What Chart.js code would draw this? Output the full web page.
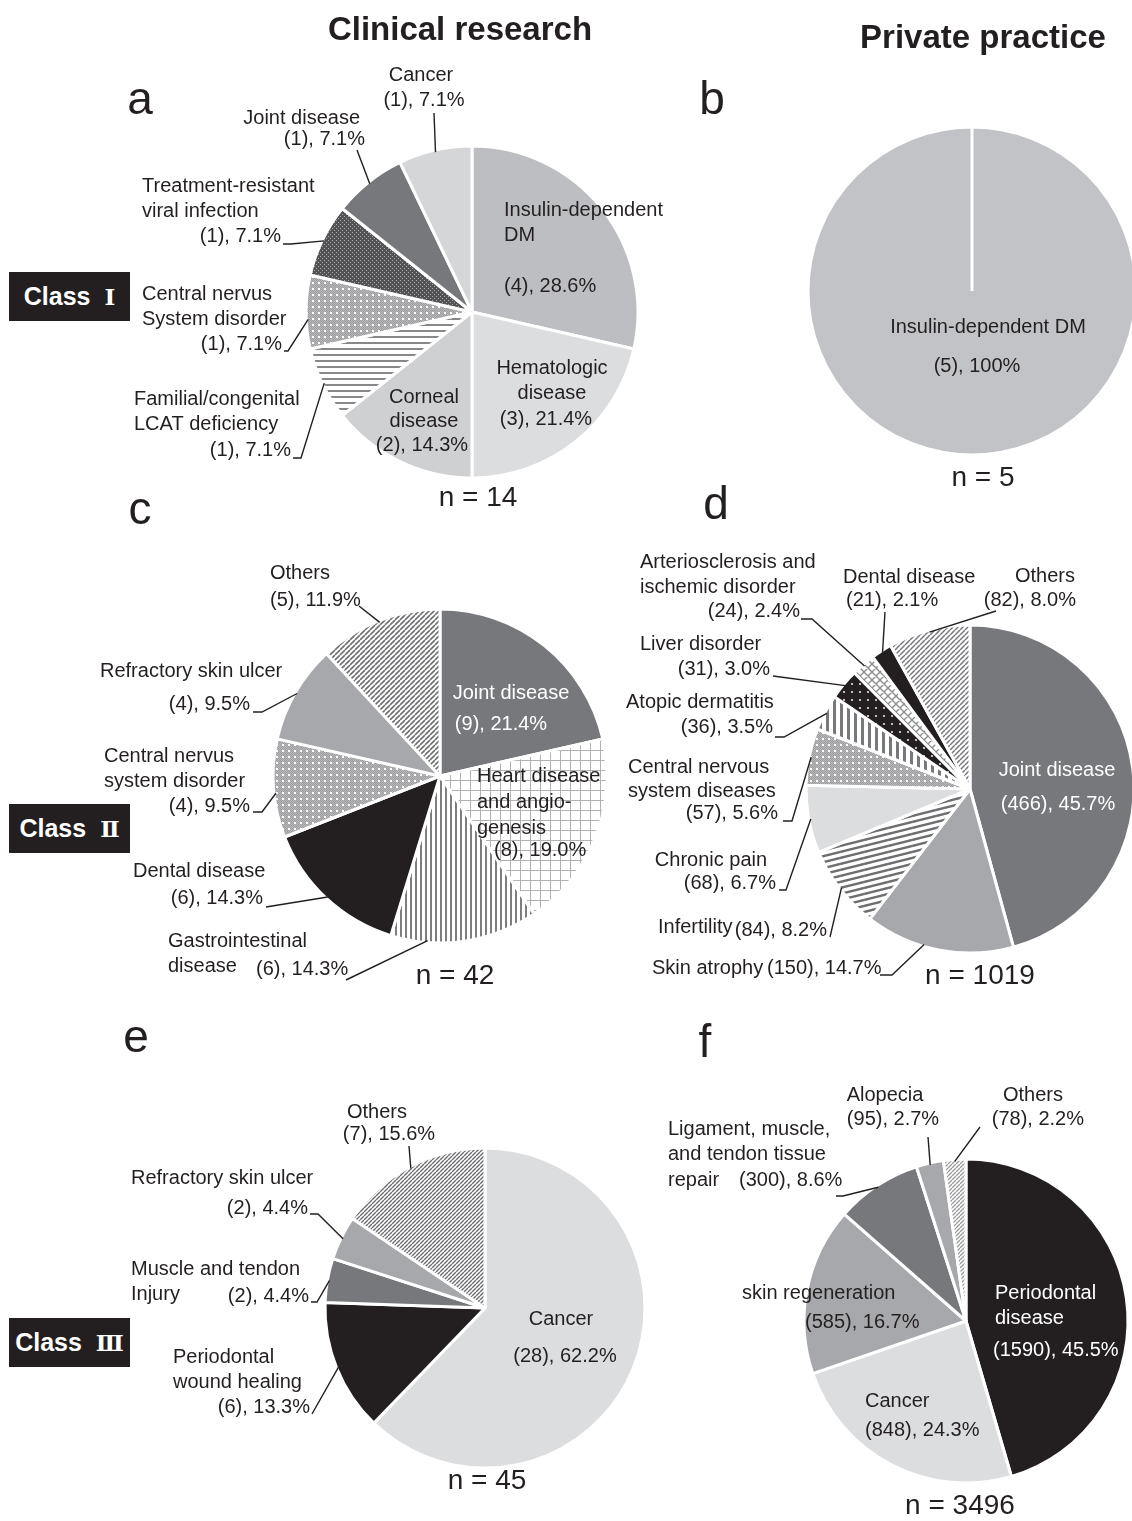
<!DOCTYPE html>
<html>
<head>
<meta charset="utf-8">
<script src="https://cdn.jsdelivr.net/npm/chart.js@4.4.0/dist/chart.umd.min.js"></script>
<style>
  body { margin: 0; background: #fff; }
  #page { position: relative; width: 1132px; height: 1521px; font-family: "Liberation Sans", Arial, sans-serif; color: #231f20; overflow: hidden; }
  canvas { position: absolute; left: 0; top: 0; }
  .t { position: absolute; transform: translate(-50%, -50%); line-height: 1; white-space: nowrap; }
  .head { font-weight: bold; font-size: 33px; }
  .panel { font-size: 46px; }
  .n { font-size: 28px; }
  .cls { position: absolute; left: 9px; width: 121px; height: 49px; background: #231f20; color: #fff;
         font-weight: bold; font-size: 25px; display: flex; align-items: center; justify-content: center; }
  .cls span { font-family: "DejaVu Serif", serif; font-weight: bold; font-size: 23px; margin-left: 14px; }
</style>
</head>
<body>
<div id="page">
  <canvas id="pieA" width="1132" height="1521"></canvas>
  <canvas id="pieB" width="1132" height="1521"></canvas>
  <canvas id="pieC" width="1132" height="1521"></canvas>
  <canvas id="pieD" width="1132" height="1521"></canvas>
  <canvas id="pieE" width="1132" height="1521"></canvas>
  <canvas id="pieF" width="1132" height="1521"></canvas>

  <div class="t head" style="left:460px;top:28px">Clinical research</div>
  <div class="t head" style="left:983px;top:36px">Private practice</div>

  <div class="t panel" style="left:140px;top:98px">a</div>
  <div class="t panel" style="left:712px;top:98px">b</div>
  <div class="t panel" style="left:140px;top:508px">c</div>
  <div class="t panel" style="left:716px;top:503px">d</div>
  <div class="t panel" style="left:136px;top:1036px">e</div>
  <div class="t panel" style="left:705px;top:1041px">f</div>

  <div class="cls" style="top:272px">Class<span>Ⅰ</span></div>
  <div class="cls" style="top:804px">Class<span>Ⅱ</span></div>
  <div class="cls" style="top:1318px">Class<span>Ⅲ</span></div>

  <div class="t n" style="left:478px;top:497px">n = 14</div>
  <div class="t n" style="left:983px;top:477px">n = 5</div>
  <div class="t n" style="left:455px;top:975px">n = 42</div>
  <div class="t n" style="left:980px;top:975px">n = 1019</div>
  <div class="t n" style="left:487px;top:1480px">n = 45</div>
  <div class="t n" style="left:960px;top:1505px">n = 3496</div>
</div>

<script>
// a: class I, clinical research
const aNames = ["Insulin-dependent\nDM", "Hematologic\ndisease", "Corneal\ndisease", "Familial/congenital\nLCAT deficiency",
                "Central nervus\nSystem disorder", "Treatment-resistant\nviral infection", "Joint disease", "Cancer"];
const aCounts = [4, 3, 2, 1, 1, 1, 1, 1];
const aPct = ["28.6", "21.4", "14.3", "7.1", "7.1", "7.1", "7.1", "7.1"];

// b: class I, private practice
const bNames = ["Insulin-dependent DM"];
const bCounts = [5];
const bPct = ["100"];

// c: class II, clinical research
const cNames = ["Joint disease", "Heart disease\nand angio-\ngenesis", "Gastrointestinal\ndisease", "Dental disease",
                "Central nervus\nsystem disorder", "Refractory skin ulcer", "Others"];
const cCounts = [9, 8, 6, 6, 4, 4, 5];
const cPct = ["21.4", "19.0", "14.3", "14.3", "9.5", "9.5", "11.9"];

// d: class II, private practice
const dNames = ["Joint disease", "Skin atrophy", "Infertility", "Chronic pain", "Central nervous\nsystem diseases",
                "Atopic dermatitis", "Liver disorder", "Arteriosclerosis and\nischemic disorder", "Dental disease", "Others"];
const dCounts = [466, 150, 84, 68, 57, 36, 31, 24, 21, 82];
const dPct = ["45.7", "14.7", "8.2", "6.7", "5.6", "3.5", "3.0", "2.4", "2.1", "8.0"];

// e: class III, clinical research
const eNames = ["Cancer", "Periodontal\nwound healing", "Muscle and tendon\nInjury", "Refractory skin ulcer", "Others"];
const eCounts = [28, 6, 2, 2, 7];
const ePct = ["62.2", "13.3", "4.4", "4.4", "15.6"];

// f: class III, private practice
const fNames = ["Periodontal\ndisease", "Cancer", "skin regeneration", "Ligament, muscle,\nand tendon tissue\nrepair", "Alopecia", "Others"];
const fCounts = [1590, 848, 585, 300, 95, 78];
const fPct = ["45.5", "24.3", "16.7", "8.6", "2.7", "2.2"];

const W = 1132, H = 1521;
const INK = '#231f20';
const DARK = '#77787b', MID = '#a7a8ab', LIGHT = '#dcdddf', BLACK = '#231f20';
const LABEL_FONT = '20px "Liberation Sans", Arial, sans-serif';

// small repeating tiles for the hatched slices
function pattern(w, h, paint) {
  const c = document.createElement('canvas');
  c.width = w; c.height = h;
  const g = c.getContext('2d');
  paint(g, w, h);
  return g.createPattern(c, 'repeat');
}
function white(g, w, h) { g.fillStyle = '#fff'; g.fillRect(0, 0, w, h); }

const hLines = pattern(6, 6, (g, w, h) => { white(g, w, h); g.fillStyle = '#88888b'; g.fillRect(0, 0, w, 2); });
const vLines = pattern(5, 5, (g, w, h) => { white(g, w, h); g.fillStyle = '#7e7e81'; g.fillRect(0, 0, 2, h); });
const wideVLines = pattern(7, 7, (g, w, h) => { white(g, w, h); g.fillStyle = '#77787b'; g.fillRect(0, 0, 3, h); });
function diag(size, color, lw) {
  return pattern(size, size, (g, w, h) => {
    white(g, w, h);
    g.strokeStyle = color; g.lineWidth = lw;
    g.beginPath();
    for (const k of [-1, 0, 1]) { g.moveTo(k * w, h); g.lineTo(k * w + w, 0); }
    g.stroke();
  });
}
const stripes = pattern(24, 6, (g, w, h) => {
  white(g, w, h);
  g.strokeStyle = '#6e6e71'; g.lineWidth = 2.4;
  g.beginPath();
  for (const k of [-1, 0, 1]) { g.moveTo(0, h + k * h); g.lineTo(w, k * h); }
  g.stroke();
});
const grid = pattern(10, 10, (g, w, h) => {
  white(g, w, h); g.fillStyle = '#b2b2b4';
  g.fillRect(0, 0, w, 1); g.fillRect(0, 0, 1, h);
});
const diamonds = pattern(8, 8, (g, w, h) => {
  white(g, w, h);
  g.strokeStyle = '#8a8a8d'; g.lineWidth = 1.3;
  g.beginPath();
  for (const k of [-1, 0, 1]) {
    g.moveTo(k * w, h); g.lineTo(k * w + w, 0);
    g.moveTo(k * w, 0); g.lineTo(k * w + w, h);
  }
  g.stroke();
});
const dotsDark = pattern(8, 8, (g, w, h) => {
  g.fillStyle = BLACK; g.fillRect(0, 0, w, h);
  g.fillStyle = '#e6e6e6'; g.beginPath(); g.arc(4, 4, 1.1, 0, Math.PI * 2); g.fill();
});
const dotsGray = pattern(6, 6, (g, w, h) => {
  g.fillStyle = '#9e9ea0'; g.fillRect(0, 0, w, h);
  g.fillStyle = '#b8b8ba';
  for (let x = 0; x < w; x++) for (let y = 0; y < h; y++) if ((x + y) % 2) g.fillRect(x, y, 1, 1);
  g.fillStyle = '#fff'; g.fillRect(0, 0, 2, 2);
});
const darkMesh = pattern(4, 4, (g, w, h) => {
  g.fillStyle = '#535355'; g.fillRect(0, 0, w, h);
  g.fillStyle = '#a9a9ab'; g.fillRect(0, 0, 1, 1); g.fillRect(2, 2, 1, 1);
});

// labels and leader lines; the last point of a leader sits on the slice edge
const sliceLabels = {
  id: 'sliceLabels',
  afterDatasetsDraw(chart, args, opts) {
    const ctx = chart.ctx;
    const arcs = chart.getDatasetMeta(0).data;
    const counts = chart.data.datasets[0].data;
    ctx.save();
    ctx.font = LABEL_FONT;
    ctx.textBaseline = 'middle';
    ctx.lineWidth = 1.4;
    ctx.strokeStyle = INK;
    opts.spots.forEach((s, i) => {
      if (s.lead) {
        const p = arcs[i].getProps(['x', 'y', 'startAngle', 'endAngle', 'outerRadius']);
        const a = p.startAngle + (s.f ?? 0.5) * (p.endAngle - p.startAngle);
        ctx.beginPath();
        s.lead.forEach(([x, y], k) => (k ? ctx.lineTo(x, y) : ctx.moveTo(x, y)));
        ctx.lineTo(p.x + Math.cos(a) * (p.outerRadius - 2), p.y + Math.sin(a) * (p.outerRadius - 2));
        ctx.stroke();
      }
      ctx.fillStyle = s.white ? '#fff' : INK;
      ctx.textAlign = s.n[2];
      opts.names[i].split('\n').forEach((t, k) => ctx.fillText(t, s.n[0], s.n[1] + k * (s.lh || 25)));
      ctx.textAlign = s.v[2];
      ctx.fillText(`(${counts[i]}), ${opts.pct[i]}%`, s.v[0], s.v[1]);
    });
    ctx.restore();
  }
};

function pie(id, names, counts, pct, colors, cx, cy, r, spots) {
  return new Chart(document.getElementById(id), {
    type: 'pie',
    data: {
      labels: names.map(n => n.replace(/\n/g, ' ')),
      datasets: [{ data: counts, backgroundColor: colors, borderColor: '#fff', borderWidth: 3, hoverOffset: 0, radius: r }]
    },
    options: {
      responsive: false,
      animation: false,
      events: [],
      layout: { padding: { left: cx - r - 2, right: W - cx - r - 2, top: cy - r - 2, bottom: H - cy - r - 2 } },
      plugins: {
        legend: { display: false },
        tooltip: { enabled: false },
        sliceLabels: { names, pct, spots }
      }
    },
    plugins: [sliceLabels]
  });
}

pie('pieA', aNames, aCounts, aPct,
  ['#bdbec1', '#dcdddf', '#cfd0d2', hLines, dotsGray, darkMesh, DARK, '#d5d6d8'],
  472, 312, 166, [
    { n: [504, 210, 'left'], v: [504, 286, 'left'] },
    { n: [552, 368, 'center'], v: [546, 419, 'center'] },
    { n: [424, 397, 'center'], v: [422, 445, 'center'], lh: 24 },
    { n: [134, 399, 'left'], v: [291, 450, 'right'], lead: [[293, 458], [301, 458]] },
    { n: [142, 294, 'left'], v: [282, 344, 'right'], lead: [[284, 351], [288, 351]], f: 0.4 },
    { n: [142, 186, 'left'], v: [281, 236, 'right'], lead: [[283, 244], [291, 244]] },
    { n: [360, 118, 'right'], v: [365, 139, 'right'], lead: [[357, 150]] },
    { n: [421, 75, 'center'], v: [424, 100, 'center'], lead: [[434, 113]] }
  ]);

pie('pieB', bNames, bCounts, bPct, ['#c2c3c6'], 978, 291, 164, [
  { n: [988, 327, 'center'], v: [977, 366, 'center'] }
]);

pie('pieC', cNames, cCounts, cPct,
  [DARK, grid, vLines, BLACK, dotsGray, MID, diag(5, '#6f6f72', 1.6)],
  440, 776, 167, [
    { n: [511, 693, 'center'], v: [501, 724, 'center'], white: true },
    { n: [477, 776, 'left'], v: [494, 850, 'left'], lh: 26 },
    { n: [168, 941, 'left'], v: [256, 969, 'left'], lead: [[346, 980]], f: 0.75 },
    { n: [133, 871, 'left'], v: [263, 898, 'right'], lead: [[266, 907]] },
    { n: [104, 756, 'left'], v: [250, 806, 'right'], lead: [[253, 812], [262, 812]], f: 0.45 },
    { n: [100, 671, 'left'], v: [250, 704, 'right'], lead: [[253, 712], [262, 712]] },
    { n: [300, 573, 'center'], v: [270, 600, 'left'], lead: [[359, 606]] }
  ]);

pie('pieD', dNames, dCounts, dPct,
  [DARK, MID, stripes, LIGHT, dotsGray, wideVLines, dotsDark, diamonds, BLACK, diag(5, '#77787b', 1.5)],
  974, 789, 164, [
    { n: [1057, 770, 'center'], v: [1058, 804, 'center'], white: true },
    { n: [652, 968, 'left'], v: [767, 968, 'left'], lead: [[880, 975], [892, 975]], f: 0.6 },
    { n: [658, 927, 'left'], v: [827, 930, 'right'], lead: [[830, 937]] },
    { n: [711, 860, 'center'], v: [776, 883, 'right'], lead: [[779, 890], [786, 890]] },
    { n: [628, 767, 'left'], v: [778, 813, 'right'], lead: [[783, 821], [792, 821]], lh: 24 },
    { n: [626, 702, 'left'], v: [773, 727, 'right'], lead: [[775, 737], [784, 737]] },
    { n: [640, 644, 'left'], v: [770, 669, 'right'], lead: [[773, 676]] },
    { n: [640, 562, 'left'], v: [800, 611, 'right'], lead: [[801, 619], [812, 619]] },
    { n: [843, 577, 'left'], v: [846, 600, 'left'], lead: [[885, 612]] },
    { n: [1045, 576, 'center'], v: [1076, 600, 'right'], lead: [[996, 611]] }
  ]);

pie('pieE', eNames, eCounts, ePct,
  [LIGHT, BLACK, DARK, MID, diag(4, '#6f6f72', 1.4)],
  485, 1308, 160, [
    { n: [561, 1319, 'center'], v: [565, 1356, 'center'] },
    { n: [173, 1357, 'left'], v: [310, 1407, 'right'], lead: [[312, 1414]] },
    { n: [131, 1269, 'left'], v: [309, 1296, 'right'], lead: [[311, 1302], [317, 1302]] },
    { n: [131, 1178, 'left'], v: [308, 1208, 'right'], lead: [[310, 1214], [318, 1214]] },
    { n: [377, 1112, 'center'], v: [389, 1134, 'center'], lead: [[409, 1146]] }
  ]);

pie('pieF', fNames, fCounts, fPct,
  [BLACK, LIGHT, MID, DARK, MID, diag(4, '#9a9a9d', 1.3)],
  966, 1321, 162, [
    { n: [995, 1293, 'left'], v: [993, 1350, 'left'], white: true },
    { n: [865, 1401, 'left'], v: [865, 1430, 'left'] },
    { n: [742, 1293, 'left'], v: [805, 1322, 'left'] },
    { n: [668, 1129, 'left'], v: [739, 1180, 'left'], lead: [[836, 1196], [843, 1196]], lh: 25.5 },
    { n: [885, 1095, 'center'], v: [893, 1119, 'center'], lead: [[928, 1137]] },
    { n: [1033, 1095, 'center'], v: [1084, 1119, 'right'], lead: [[980, 1127]] }
  ]);
</script>
</body>
</html>
